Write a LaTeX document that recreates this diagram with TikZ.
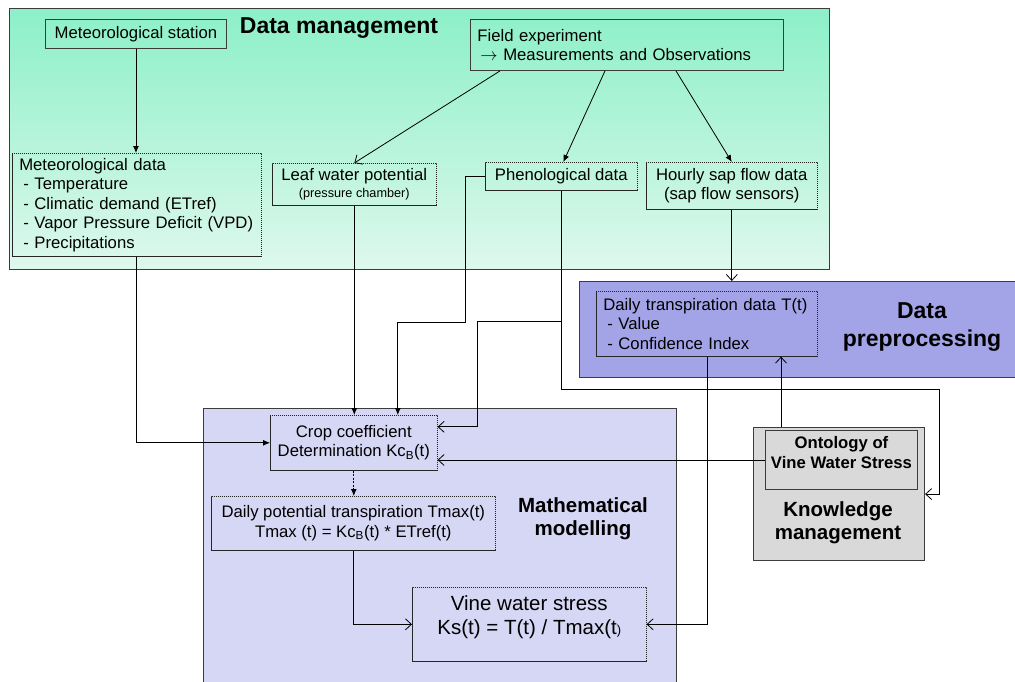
\documentclass[tikz,border=0pt]{standalone}
\usepackage{fontspec}
\setmainfont{Liberation Sans}
\usetikzlibrary{arrows.meta}
\definecolor{dmtop}{RGB}{140,240,200}
\definecolor{dmbot}{RGB}{222,248,237}
\definecolor{dpfill}{RGB}{163,163,231}
\definecolor{mmfill}{RGB}{214,214,245}
\definecolor{kmfill}{RGB}{217,217,217}
\definecolor{edge}{RGB}{60,60,60}
\tikzset{
 area/.style={draw=edge, line width=1.1pt, anchor=north west, inner sep=0pt},
 sbox/.style={draw=edge, line width=0.9pt, anchor=north west, inner sep=0pt, align=center, font=\fontsize{16.7}{19.5}\selectfont},
 dbox/.style={draw=black!85, line width=0.6pt, dash pattern=on 1.2pt off 0.8pt, anchor=north west, inner sep=0pt, align=center, font=\fontsize{16.7}{19.5}\selectfont},
 ttl/.style={font=\fontsize{20.5}{23}\bfseries\selectfont, align=center, inner sep=0pt},
 bigttl/.style={font=\fontsize{23}{28}\bfseries\selectfont, align=center, inner sep=0pt},
 fa/.style={-{Latex[length=7pt,width=6pt]}, line width=0.8pt},
 oa/.style={-{Straight Barb[length=6pt,width=11pt]}, line width=0.8pt},
}
\begin{document}
\begin{tikzpicture}[x=1pt,y=-1pt]
\useasboundingbox (0,0) rectangle (1015,681);
\clip (0,0) rectangle (1015,681);
% areas
\node[area, top color=dmtop, bottom color=dmbot, minimum width=820pt, minimum height=261pt] (dm) at (9,8) {};
\node[area, fill=dpfill, minimum width=445pt, minimum height=96pt] (dp) at (579,281) {};
\node[area, fill=mmfill, minimum width=473pt, minimum height=285pt] (mm) at (203,408) {};
\node[area, fill=kmfill, minimum width=171pt, minimum height=133pt] (km) at (753,427) {};
% titles
\node[bigttl] (tdm) at (339,28) {Data management};
\node[bigttl] (tdp) at (922,327) {Data\\preprocessing};
\node[ttl] (tmm) at (583,519) {Mathematical\\modelling};
\node[ttl] (tkm) at (838,523) {Knowledge\\management};
% boxes
\node[sbox, minimum width=181pt, minimum height=29pt] (metstation) at (45,19) {Meteorological station};
\node[sbox, minimum width=313pt, minimum height=51pt, text width=299pt, align=left] (fieldexp) at (470,19) {Field experiment\\\hspace*{3pt}\ensuremath{\rightarrow} Measurements and Observations};
\node[dbox, minimum width=249pt, minimum height=103pt, text width=235pt, align=left] (metdata) at (12,153) {Meteorological data\\\hspace*{4pt}- Temperature\\\hspace*{4pt}- Climatic demand (ETref)\\\hspace*{4pt}- Vapor Pressure Deficit (VPD)\\\hspace*{4pt}- Precipitations};
\node[dbox, minimum width=164pt, minimum height=42pt] (leaf) at (272,163) {Leaf water potential\\[-3pt]{\fontsize{12.7}{14}\selectfont (pressure chamber)}};
\node[dbox, minimum width=152pt, minimum height=28pt] (phen) at (485,162) {Phenological data};
\node[dbox, minimum width=171pt, minimum height=47pt] (hourly) at (646,162) {Hourly sap flow data\\(sap flow sensors)};
\node[dbox, minimum width=221pt, minimum height=65pt, text width=207pt, align=left] (dt) at (596,291) {Daily transpiration data T(t)\\\hspace*{4pt}- Value\\\hspace*{4pt}- Confidence Index};
\node[dbox, minimum width=167pt, minimum height=55pt] (crop) at (270,415) {Crop coefficient\\Determination Kc\textsubscript{B}(t)};
\node[dbox, minimum width=284pt, minimum height=54pt] (dpot) at (211,496) {Daily potential transpiration Tmax(t)\\Tmax (t) = Kc\textsubscript{B}(t) * ETref(t)};
\node[dbox, minimum width=234pt, minimum height=74pt, font=\fontsize{20.5}{24}\selectfont] (vine) at (412,587) {Vine water stress\\Ks(t) = T(t) / Tmax(t{\fontsize{13}{13}\selectfont)}\\[-6pt]\mbox{}};
\node[sbox, fill=kmfill, minimum width=152pt, minimum height=59pt, font=\fontsize{16.7}{20}\bfseries\selectfont] (onto) at (765,430) {Ontology of\\Vine Water Stress\\[-5pt]\mbox{}};
% connectors
\draw[fa] (metstation.south) -- (metstation.south |- metdata.north);
\draw[oa] ([xshift=30pt]fieldexp.south west) -- (leaf.north);
\draw[fa] ([xshift=135pt]fieldexp.south west) -- ([xshift=2pt]phen.north);
\draw[fa] ([xshift=206pt]fieldexp.south west) -- (hourly.north);
\draw[oa] (hourly.south) -- (hourly.south |- dp.north);
\draw[fa] (metdata.south) |- (crop.west);
\draw[fa] (leaf.south) -- (leaf.south |- crop.north);
\draw[fa] (phen.west) -- ++(-20,0) -- ++(0,146) -| ([xshift=44pt]crop.north);
\coordinate (bend1) at (939,389);
\draw[oa] (phen.south) |- (bend1) |- (km.east);
\coordinate (junc) at (phen.south |- 0,321);
\draw[oa] (junc) -- ++(-84,0) |- ([yshift=16pt]crop.east);
\draw[oa] (onto.west) -- (onto.west -| crop.east);
\draw[oa] ([xshift=28pt]km.north west) -- ([xshift=28pt]km.north west |- dt.south);
\draw[oa] ([xshift=111pt]dt.south west) |- (vine.east);
\draw[fa, dash pattern=on 2pt off 1.5pt] (crop.south) -- (crop.south |- dpot.north);
\draw[oa] (dpot.south) |- (vine.west);
\end{tikzpicture}
\end{document}
